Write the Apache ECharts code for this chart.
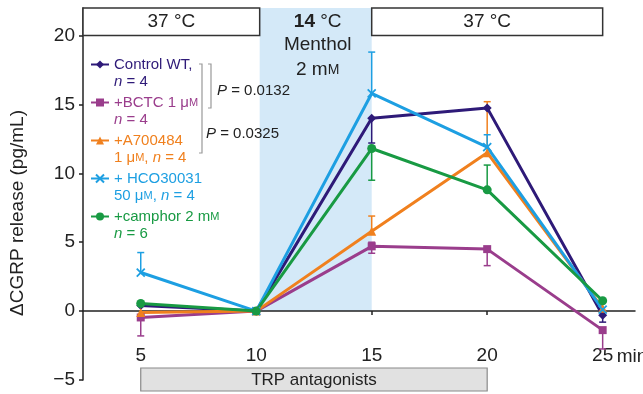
<!DOCTYPE html>
<html>
<head>
<meta charset="utf-8">
<script src="https://cdn.jsdelivr.net/npm/echarts@6/dist/echarts.min.js"></script>
<style>
  html, body { margin: 0; background: #fff; }
  #chart { width: 643px; height: 394px; }
</style>
</head>
<body>
<div id="chart"></div>
<script>
// time points (min)
const times = [5, 10, 15, 20, 25];
const tickValues = [5, 10, 15, 20, 25];
const yTickValues = [-5, 0, 5, 10, 15, 20];

// mean ΔCGRP release (pg/mL)
const wtValues = [0.4, 0, 14.0, 14.75, -0.3];
const bctcValues = [-0.46, 0, 4.7, 4.5, -1.38];
const a700Values = [-0.1, 0, 5.8, 11.5, 0.2];
const hcoValues = [2.8, 0, 15.8, 11.9, 0.1];
const camphorValues = [0.55, 0, 11.8, 8.8, 0.75];

// error bars as [low, high] (null = not shown)
const wtErr = [null, null, [12.2, 14.0], null, [-0.8, -0.3]];
const bctcErr = [[-1.8, -0.46], null, [4.2, 5.0], [3.3, 4.5], [-2.75, -1.38]];
const a700Err = [null, null, [5.8, 6.9], [11.5, 15.2], null];
const hcoErr = [[2.8, 4.25], null, [15.8, 18.8], [11.9, 12.8], null];
const camphorErr = [null, null, [9.5, 11.8], [8.8, 10.6], null];

// series names and legend texts
const seriesNames = ['Control WT,', '+BCTC 1 μM', '+A700484', '+ HCO30031', '+camphor 2 mM'];
const legendTexts = [
  '{e| }\nControl WT,\n{i|n} = 4',
  '{e| }\n+BCTC 1 μ{s|M}\n{i|n} = 4',
  '{e| }\n+A700484\n1 μ{s|M}, {i|n} = 4',
  '{e| }\n+ HCO30031\n50 μ{s|M}, {i|n} = 4',
  '{e| }\n+camphor 2 m{s|M}\n{i|n} = 6'
];

const FONT = '"Liberation Sans", Arial, sans-serif';
const crossPath = 'path://M0,0L10,10M10,0L0,10';

//每组的样式
const groups = [
  { values: bctcValues, err: bctcErr, color: '#9a3d8c', symbol: 'rect', size: 8, idx: 1 },
  { values: wtValues, err: wtErr, color: '#2e1a78', symbol: 'diamond', size: 9, idx: 0 },
  { values: a700Values, err: a700Err, color: '#f0801e', symbol: 'triangle', size: 9, idx: 2 },
  { values: hcoValues, err: hcoErr, color: '#1d9fe2', symbol: crossPath, size: 8, idx: 3 },
  { values: camphorValues, err: camphorErr, color: '#189a43', symbol: 'circle', size: 9, idx: 4 }
];

const chart = echarts.init(document.getElementById('chart'));

const series = [];
// error bars first so markers sit on top
groups.forEach(g => {
  const data = [];
  g.err.forEach((e, i) => {
    if (e) data.push([times[i], e[0], e[1], g.values[i]]);
  });
  series.push({
    type: 'custom',
    silent: true,
    data: data,
    renderItem: function (params, api) {
      const x = api.value(0), lo = api.value(1), hi = api.value(2), m = api.value(3);
      const pLo = api.coord([x, lo]);
      const pHi = api.coord([x, hi]);
      const pM = api.coord([x, m]);
      const cap = 3.5;
      const children = [{
        type: 'line',
        shape: { x1: pLo[0], y1: pLo[1], x2: pHi[0], y2: pHi[1] },
        style: { stroke: g.color, lineWidth: 1.5 }
      }];
      [pLo, pHi].forEach(p => {
        if (Math.abs(p[1] - pM[1]) > 1) {
          children.push({
            type: 'line',
            shape: { x1: p[0] - cap, y1: p[1], x2: p[0] + cap, y2: p[1] },
            style: { stroke: g.color, lineWidth: 1.5 }
          });
        }
      });
      return { type: 'group', children: children };
    }
  });
});
groups.forEach(g => {
  series.push({
    name: seriesNames[g.idx],
    type: 'line',
    data: times.map((t, i) => [t, g.values[i]]),
    symbol: g.symbol,
    symbolSize: g.size,
    showAllSymbol: true,
    lineStyle: { color: g.color, width: 3 },
    itemStyle: { color: g.color, borderColor: g.color, borderWidth: g.idx === 3 ? 1.8 : 0 },
    emphasis: { disabled: true }
  });
});

const legendData = seriesNames.map((n, i) => {
  const c = groups.find(g => g.idx === i).color;
  return {
    name: n,
    textStyle: {
      color: c,
      rich: {
        e: { lineHeight: 17, fontSize: 15, fontFamily: FONT },
        i: { fontStyle: 'italic', color: c, lineHeight: 17, fontSize: 15, fontFamily: FONT },
        s: { fontSize: 11, color: c, lineHeight: 17, fontFamily: FONT }
      }
    }
  };
});

const option = {
  animation: false,
  grid: { left: 83, right: 8, top: 8, bottom: 14, containLabel: false, outerBoundsMode: 'none' },
  legend: {
    orient: 'vertical',
    left: 90,
    top: 39,
    padding: 0,
    itemWidth: 18,
    itemHeight: 10,
    itemGap: -13,
    selectedMode: false,
    data: legendData,
    formatter: function (name) { return legendTexts[seriesNames.indexOf(name)]; },
    textStyle: { fontSize: 15, fontFamily: FONT, lineHeight: 17 }
  },
  xAxis: {
    type: 'value',
    min: 2.5,
    max: 26.4,
    splitLine: { show: false },
    axisLine: { onZero: true, lineStyle: { color: '#222', width: 1.5 } },
    axisTick: { show: true, length: 4, customValues: tickValues, lineStyle: { color: '#222', width: 1.5 } },
    axisLabel: { customValues: tickValues, margin: -34, fontSize: 19, color: '#222', fontFamily: FONT }
  },
  yAxis: {
    type: 'value',
    min: -5,
    max: 22,
    splitLine: { show: false },
    axisLine: { show: true, lineStyle: { color: '#222', width: 1.5 } },
    axisTick: { show: true, length: 4, customValues: yTickValues, lineStyle: { color: '#222', width: 1.5 } },
    axisLabel: { customValues: yTickValues, margin: 8, fontSize: 19, color: '#222', fontFamily: FONT,
      formatter: v => (v < 0 ? '−' + Math.abs(v) : String(v)) }
  },
  series: series
};
chart.setOption(option);

// annotations placed by data coordinates
const px = (x, y) => chart.convertToPixel({ gridIndex: 0 }, [x, y]);
const sA = px(10.15, 22), sB = px(15, 0);
const b1A = px(2.5, 22), b1B = px(10.15, 20);
const b2A = px(15, 22), b2B = px(25, 20);
const tA = px(5, -4.13), tB = px(20, -5.8);
const p25 = px(25, 0);

function boxText(a, b, text, fill, stroke) {
  return [{
    type: 'rect', z: 5,
    shape: { x: a[0], y: a[1], width: b[0] - a[0], height: b[1] - a[1] },
    style: { fill: fill, stroke: stroke, lineWidth: 1.5 }
  }, {
    type: 'text', z: 6,
    x: (a[0] + b[0]) / 2, y: (a[1] + b[1]) / 2,
    style: { text: text, fill: '#222', font: '19px ' + FONT, align: 'center', verticalAlign: 'middle' }
  }];
}

const graphic = [
  { type: 'rect', z: -1, shape: { x: sA[0], y: sA[1], width: sB[0] - sA[0], height: sB[1] - sA[1] },
    style: { fill: '#d4e9f8' } },
  ...boxText(b1A, b1B, '37 °C', '#fff', '#333'),
  ...boxText(b2A, b2B, '37 °C', '#fff', '#333'),
  { type: 'rect', z: 5, shape: { x: tA[0], y: tA[1], width: tB[0] - tA[0], height: tB[1] - tA[1] },
    style: { fill: '#e1e1e1', stroke: '#8a8a8a', lineWidth: 1.2 } },
  { type: 'text', z: 6, x: (tA[0] + tB[0]) / 2, y: (tA[1] + tB[1]) / 2 + 1,
    style: { text: 'TRP antagonists', fill: '#222', font: '17px ' + FONT, align: 'center', verticalAlign: 'middle' } },
  { type: 'text', z: 6, x: (sA[0] + sB[0]) / 2 + 2, y: 22,
    style: { text: '{b|14} °C', fill: '#222', font: '19px ' + FONT, align: 'center', verticalAlign: 'middle',
      rich: { b: { fontWeight: 'bold', fontSize: 19, fontFamily: FONT } } } },
  { type: 'text', z: 6, x: (sA[0] + sB[0]) / 2 + 2, y: 45,
    style: { text: 'Menthol', fill: '#222', font: '19px ' + FONT, align: 'center', verticalAlign: 'middle' } },
  { type: 'text', z: 6, x: (sA[0] + sB[0]) / 2 + 2, y: 70,
    style: { text: '2 m{s|M}', fill: '#222', font: '19px ' + FONT, align: 'center', verticalAlign: 'middle',
      rich: { s: { fontSize: 14, fontFamily: FONT } } } },
  // P value brackets
  { type: 'polyline', z: 5, shape: { points: [[208, 64], [211, 64], [211, 108], [208, 108]] },
    style: { stroke: '#999', lineWidth: 1.2, fill: null } },
  { type: 'polyline', z: 5, shape: { points: [[199, 64], [202, 64], [202, 153], [199, 153]] },
    style: { stroke: '#999', lineWidth: 1.2, fill: null } },
  { type: 'text', z: 6, x: 217, y: 91,
    style: { text: '{i|P} = 0.0132', fill: '#222', font: '15px ' + FONT, verticalAlign: 'middle',
      rich: { i: { fontStyle: 'italic', fontSize: 15, fontFamily: FONT } } } },
  { type: 'text', z: 6, x: 206, y: 134,
    style: { text: '{i|P} = 0.0325', fill: '#222', font: '15px ' + FONT, verticalAlign: 'middle',
      rich: { i: { fontStyle: 'italic', fontSize: 15, fontFamily: FONT } } } },
  // "min" after the 25 label
  { type: 'text', z: 6, x: p25[0] + 14, y: p25[1] + 46,
    style: { text: 'min', fill: '#222', font: '19px ' + FONT, verticalAlign: 'middle' } },
  // y axis title
  { type: 'text', z: 6, x: 18, y: 213, rotation: Math.PI / 2,
    style: { text: 'ΔCGRP release (pg/mL)', fill: '#222', font: '19px ' + FONT, align: 'center', verticalAlign: 'middle' } }
];
chart.setOption({ graphic: graphic });
</script>
</body>
</html>
